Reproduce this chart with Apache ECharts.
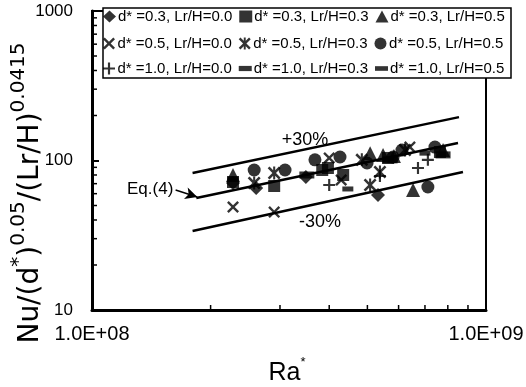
<!DOCTYPE html>
<html><head><meta charset="utf-8">
<script src="https://cdn.jsdelivr.net/npm/echarts@6/dist/echarts.min.js"></script>
<style>html,body{margin:0;padding:0;background:#fff}#c{width:526px;height:387px}</style>
</head><body><div id="c"></div>
<script>
// ---- data (Ra*, Nu/(d*)^0.05/(Lr/H)^0.0415) ----
const seriesNames = [
  'd* =0.3, Lr/H=0.0', 'd* =0.3, Lr/H=0.3', 'd* =0.3, Lr/H=0.5',
  'd* =0.5, Lr/H=0.0', 'd* =0.5, Lr/H=0.3', 'd* =0.5, Lr/H=0.5',
  'd* =1.0, Lr/H=0.0', 'd* =1.0, Lr/H=0.3', 'd* =1.0, Lr/H=0.5'
];
const d03_L00 = [[2.28e8,70.7],[2.61e8,65.5],[3.49e8,77.6],[5.32e8,58.8]];
const d03_L03 = [[2.28e8,71.8],[2.90e8,67.5],[3.84e8,86.4],[3.97e8,89.1],[4.34e8,80.0],[5.64e8,104],[7.64e8,114]];
const d03_L05 = [[2.28e8,80.0],[5.08e8,112],[5.48e8,109],[5.84e8,107],[6.53e8,63.5],[7.78e8,117.5]];
const d05_L00 = [[2.28e8,48.9],[2.90e8,45.2],[4.00e8,104],[4.29e8,74.1],[6.41e8,123]];
const d05_L03 = [[2.58e8,70.7],[2.90e8,82.5],[4.84e8,101],[5.08e8,68.6],[5.38e8,83.8],[6.23e8,117.5]];
const d05_L05 = [[2.58e8,86.4],[3.09e8,86.4],[3.68e8,101],[4.26e8,105.5],[4.99e8,96.2],[5.81e8,105.5],[6.12e8,117.5],[7.12e8,66.5],[7.42e8,123]];
const d10_L00 = [[4.00e8,68.6],[5.38e8,78.8],[6.72e8,89.1],[7.12e8,101]];
const d10_L03 = [[2.28e8,75.2],[4.46e8,64.5],[7.00e8,112]];
const d10_L05 = [[3.51e8,80.0],[5.71e8,101],[7.78e8,109]];

const eqLine    = [[1.84e8,56.1],[8.49e8,131]];
const upperLine = [[1.80e8,82.5],[8.54e8,195]];
const lowerLine = [[1.80e8,33.8],[8.74e8,83.8]];
const eqArrow   = [[1.63e8,63.5],[1.85e8,57.0]];

const xTickValues = [1e8, 1e9];
const xTickLabels = ['1.0E+08', '1.0E+09'];
const yTickValues = [10, 100, 1000];
const yTickLabels = ['10', '100', '1000'];
const yMinor = [20,30,40,50,60,70,80,90,200,300,400,500,600,700,800,900];
const xMinor = [2e8,3e8,4e8,5e8,6e8,7e8,8e8,9e8];

// ---- styles ----
const P_X = 'path://M0,1.4 L1.4,0 L5,3.6 L8.6,0 L10,1.4 L6.4,5 L10,8.6 L8.6,10 L5,6.4 L1.4,10 L0,8.6 L3.6,5 Z';
const P_STAR = 'path://M0,1.4 L1.4,0 L5,3.6 L8.6,0 L10,1.4 L6.4,5 L10,8.6 L8.6,10 L5,6.4 L1.4,10 L0,8.6 L3.6,5 Z M4.2,0 H5.8 V10 H4.2 Z';
const P_PLUS = 'path://M4.1,0 H5.9 V4.1 H10 V5.9 H5.9 V10 H4.1 V5.9 H0 V4.1 H4.1 Z';
const P_DASH1 = 'path://M0,0 H10 V4 H0 Z';
const P_DASH2 = 'path://M0,0 H14 V5 H0 Z';
const symbols = ['diamond','rect','triangle',P_X,P_STAR,'circle',P_PLUS,'rect','rect'];
const sizes = [14,12,14,12,13,13,12,[11,5],[15,7]];
const legendIcons = ['diamond','rect','triangle',P_X,P_STAR,'circle',P_PLUS,P_DASH1,P_DASH2];
const datasets = [d03_L00,d03_L03,d03_L05,d05_L00,d05_L03,d05_L05,d10_L00,d10_L03,d10_L05];

const font = 'Liberation Sans, Arial, sans-serif';
const titleFont = 'DejaVu Sans, sans-serif';

function lineSeries(data, extra) {
  return Object.assign({ type:'line', data, symbol:'none', silent:true, z:2,
    lineStyle:{ color:'#000', width:2.5 } }, extra || {});
}
function tickSeries(data, dir) {
  return { type:'custom', coordinateSystem:'cartesian2d', silent:true, z:3, data,
    renderItem(params, api) {
      const p = api.coord([api.value(0), api.value(1)]);
      const q = dir === 'y' ? [p[0] + 5, p[1]] : [p[0], p[1] - 5];
      return { type:'line', shape:{ x1:p[0], y1:p[1], x2:q[0], y2:q[1] }, style:{ stroke:'#000', lineWidth:1.5 } };
    } };
}

const series = [
  lineSeries(upperLine),
  lineSeries(eqLine, { markLine: { silent:true, symbol:['none','arrow'], symbolSize:[9,12],
    label:{ show:false }, lineStyle:{ color:'#000', width:1.5, type:'solid' },
    data: [[{ coord: eqArrow[0] }, { coord: eqArrow[1] }]] } }),
  lineSeries(lowerLine),
  tickSeries(yMinor.map(v => [xTickValues[0], v]), 'y'),
  tickSeries(xMinor.map(v => [v, yTickValues[0]]), 'x')
];
datasets.forEach((d, i) => series.push({
  type:'scatter', name: seriesNames[i], data: d, symbol: symbols[i], symbolSize: sizes[i],
  itemStyle:{ color:'#000' }, z:5, silent:true
}));

function legendRow(idx, top) {
  return { top, left: 103, z: 20, padding: 0, itemGap: 7, itemWidth: 13, itemHeight: 12,
    selectedMode: false, orient: 'horizontal',
    data: idx.map(i => ({ name: seriesNames[i], icon: legendIcons[i] })),
    textStyle: { fontFamily: font, fontSize: 15, color: '#000', padding:[0,0,0,-3] },
    itemStyle: { color: '#000' } };
}

const chart = echarts.init(document.getElementById('c'), null, { renderer: 'canvas' });
chart.setOption({
  backgroundColor: '#fff',
  animation: false,
  grid: { left: 92, right: 40, top: 11, bottom: 77, show: true, borderColor: '#000', borderWidth: 2,
    outerBoundsMode: 'none' },
  xAxis: { type: 'log', logBase: 10, min: 1e8, max: 1e9,
    axisLine: { lineStyle: { color: '#000', width: 3 } },
    axisTick: { inside: true, length: 7, lineStyle: { color: '#000', width: 2 } },
    splitLine: { show: false },
    axisLabel: { margin: 14, fontFamily: font, fontSize: 20, color: '#000',
      formatter: v => { const i = xTickValues.findIndex(t => Math.abs(t - v) / t < 1e-6); return i >= 0 ? xTickLabels[i] : ''; } } },
  yAxis: { type: 'log', logBase: 10, min: 10, max: 1000,
    axisLine: { lineStyle: { color: '#000', width: 3 } },
    axisTick: { inside: true, length: 7, lineStyle: { color: '#000', width: 2 } },
    splitLine: { show: false },
    axisLabel: { margin: 19, fontFamily: font, fontSize: 17, color: '#000',
      formatter: v => { const i = yTickValues.findIndex(t => Math.abs(t - v) / t < 1e-6); return i >= 0 ? yTickLabels[i] : ''; } } },
  legend: [ legendRow([0,1,2], 9), legendRow([3,4,5], 36), legendRow([6,7,8], 61) ],
  graphic: [
    { type:'rect', z: 3, shape:{ x:103, y:8, width:408, height:70 },
      style:{ fill:'#fff', stroke:'#000', lineWidth:1.5 } },
    { type:'text', z: 60, x: 305, y: 140, style:{ text:'+30%', fontFamily: font, fontSize: 18, fill:'#000', align:'center', verticalAlign:'middle' } },
    { type:'text', z: 60, x: 320, y: 222, style:{ text:'-30%', fontFamily: font, fontSize: 18, fill:'#000', align:'center', verticalAlign:'middle' } },
    { type:'text', z: 60, x: 127, y: 189, style:{ text:'Eq.(4)', fontFamily: font, fontSize: 17, fill:'#000', align:'left', verticalAlign:'middle' } },
    { type:'text', z: 60, x: 287, y: 371, style:{ text:'{m|Ra}{s|*}', align:'center', verticalAlign:'middle',
        rich:{ m:{ fontFamily: font, fontSize: 25, fill:'#000', verticalAlign:'bottom', lineHeight: 30 },
               s:{ fontFamily: font, fontSize: 13, fill:'#000', verticalAlign:'top', lineHeight: 14 } } } },
    { type:'text', z: 60, x: 27, y: 193, rotation: Math.PI / 2,
      style:{ text:'{m|Nu/(d}{s|*}{m|)}{s|0.05}{m|/(Lr/H)}{s|0.0415}', align:'center', verticalAlign:'middle',
        rich:{ m:{ fontFamily: titleFont, fontSize: 28, fill:'#000', verticalAlign:'bottom', lineHeight: 36 },
               s:{ fontFamily: titleFont, fontSize: 20, fill:'#000', verticalAlign:'top', lineHeight: 20 } } } }
  ],
  series
});
</script>
</body></html>
